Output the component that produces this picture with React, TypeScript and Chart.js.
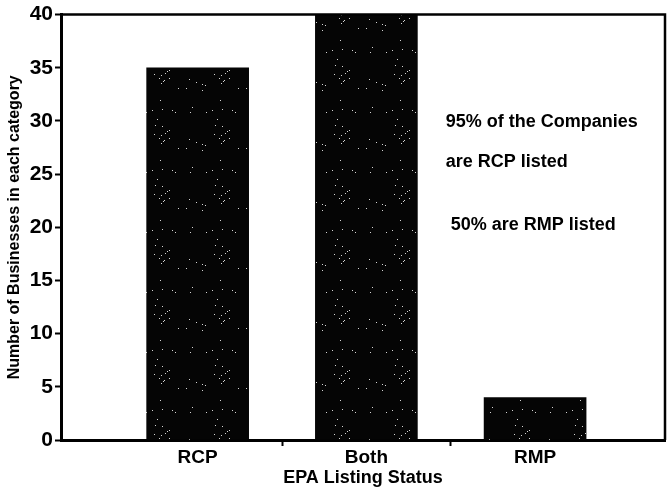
import React, { useEffect, useRef } from "react";
import { Chart, registerables } from "chart.js";

Chart.register(...registerables);

const categories = ["RCP", "Both", "RMP"];
const positions = [1, 2, 3];
const counts = [35, 40, 4];
const boundaryTicks = [1.5, 2.5];
const yMin = 0;
const yMax = 40;
const yStep = 5;
const xMin = 0.19;
const xMax = 3.77;
const notes = ["95% of the Companies", "are RCP listed", "50% are RMP listed"];
const noteX = [2.47, 2.47, 2.5];
const noteY = [29.9, 26.1, 20.2];

const FONT = "'Liberation Sans', Arial, Helvetica, sans-serif";

function makePattern(): CanvasPattern | string {
  const c = document.createElement("canvas");
  c.width = 60;
  c.height = 60;
  const g = c.getContext("2d");
  if (!g) return "#000";
  g.fillStyle = "#050505";
  g.fillRect(0, 0, 60, 60);
  let s = 12345;
  const next = () => {
    s = (s * 1103515245 + 12345) % 2147483648;
    return s / 2147483648;
  };
  g.fillStyle = "rgba(235,235,235,0.9)";
  for (let i = 0; i < 28; i++) {
    const x = Math.floor(next() * 60);
    const y = Math.floor(next() * 60);
    g.fillRect(x, y, 1, 1);
  }
  const p = g.createPattern(c, "repeat");
  return p || "#000";
}

export default function App() {
  const ref = useRef<HTMLCanvasElement>(null);
  useEffect(() => {
    document.body.style.margin = "0";
    const canvas = ref.current;
    if (!canvas) return;
    const pattern = makePattern();

    const framePlugin = {
      id: "frame",
      afterDatasetsDraw(chart: any) {
        const { ctx, chartArea } = chart;
        ctx.save();
        ctx.strokeStyle = "#000";
        ctx.lineWidth = 2.5;
        ctx.beginPath();
        ctx.moveTo(chartArea.left, chartArea.top);
        ctx.lineTo(chartArea.right, chartArea.top);
        ctx.lineTo(chartArea.right, chartArea.bottom);
        ctx.stroke();
        ctx.restore();
      },
    };

    const notesPlugin = {
      id: "notes",
      afterDraw(chart: any) {
        const { ctx } = chart;
        const xs = chart.scales.x;
        const ys = chart.scales.y;
        ctx.save();
        ctx.fillStyle = "#000";
        ctx.font = `bold 18px ${FONT}`;
        ctx.textAlign = "left";
        ctx.textBaseline = "middle";
        notes.forEach((t, i) => {
          ctx.fillText(t, xs.getPixelForValue(noteX[i]), ys.getPixelForValue(noteY[i]));
        });
        ctx.restore();
      },
    };

    const chart = new Chart(canvas, {
      type: "bar",
      data: {
        datasets: [
          {
            data: positions.map((p, i) => ({ x: p, y: counts[i] })),
            backgroundColor: pattern as any,
            borderWidth: 0,
            barThickness: 102,
          },
        ],
      },
      options: {
        animation: false,
        responsive: false,
        maintainAspectRatio: false,
        layout: { padding: { top: 14, right: 3, left: 0, bottom: 0 } },
        plugins: { legend: { display: false }, tooltip: { enabled: false } },
        scales: {
          x: {
            type: "linear",
            offset: false,
            min: xMin,
            max: xMax,
            afterBuildTicks: (scale: any) => {
              scale.ticks = [...positions, ...boundaryTicks]
                .sort((a, b) => a - b)
                .map((v) => ({ value: v }));
            },
            afterFit: (scale: any) => {
              scale.height = 56;
            },
            ticks: {
              autoSkip: false,
              maxRotation: 0,
              padding: 0,
              color: "#000",
              font: { family: FONT, size: 19, weight: "bold" },
              callback: (v: any) => {
                const idx = positions.indexOf(Number(v));
                return idx >= 0 ? categories[idx] : "";
              },
            },
            grid: {
              drawOnChartArea: false,
              offset: false,
              tickLength: 6,
              tickWidth: 2,
              tickColor: (ctx: any) =>
                ctx.tick && boundaryTicks.includes(ctx.tick.value) ? "#000" : "rgba(0,0,0,0)",
            },
            border: { color: "#000", width: 3 },
            title: {
              display: true,
              text: "EPA Listing Status",
              color: "#000",
              font: { family: FONT, size: 18, weight: "bold" },
              padding: { top: 0, bottom: 7 },
            },
          },
          y: {
            min: yMin,
            max: yMax,
            afterFit: (scale: any) => {
              scale.width = 61;
            },
            ticks: {
              stepSize: yStep,
              padding: 2,
              color: "#000",
              font: { family: FONT, size: 21, weight: "bold" },
            },
            grid: {
              drawOnChartArea: false,
              tickLength: 6,
              tickWidth: 2,
              tickColor: "#000",
            },
            border: { color: "#000", width: 3 },
            title: {
              display: true,
              text: "Number of Businesses in each category",
              color: "#000",
              font: { family: FONT, size: 16, weight: "bold" },
              padding: { top: 5, bottom: 2 },
            },
          },
        },
      },
      plugins: [framePlugin, notesPlugin],
    });
    return () => chart.destroy();
  }, []);

  return <canvas ref={ref} width={668} height={496} style={{ display: "block" }} />;
}
